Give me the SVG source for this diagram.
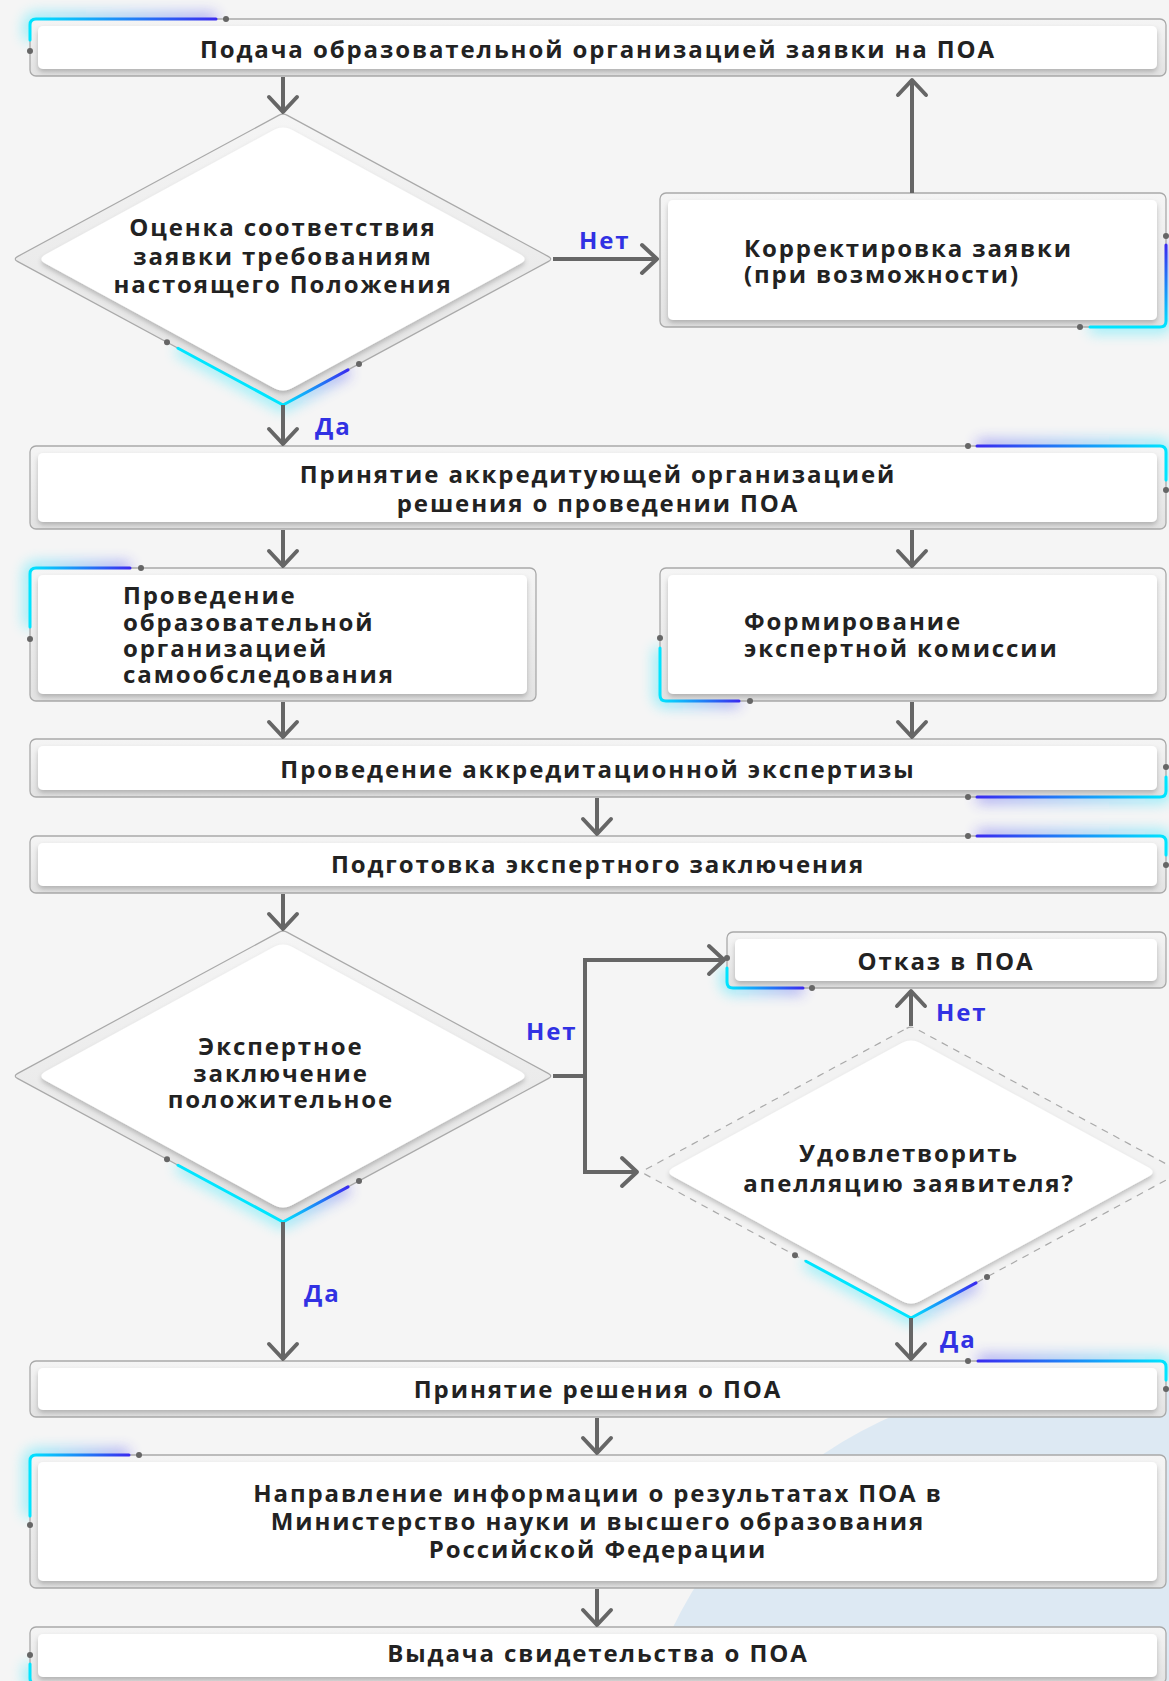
<svg xmlns="http://www.w3.org/2000/svg" xmlns:xlink="http://www.w3.org/1999/xlink" width="1169" height="1681" viewBox="0 0 1169 1681">
<defs>
<style>
.co{fill:url(#gCard);stroke:#a9a9a9;stroke-width:1.3}
.ci{fill:#fff;filter:url(#sh)}
.do{fill:url(#gCard);stroke:#a9a9a9;stroke-width:1.2}
.dd{fill:#f2f2f2;stroke:#a9a9a9;stroke-width:1.2;stroke-dasharray:7 6}
.t{font-family:'Open Sans','Noto Sans','DejaVu Sans',sans-serif;font-weight:700;font-size:24px;letter-spacing:1.9px;fill:#222}
.c{text-anchor:middle}
.lbl{fill:#3131e3}
.conn{fill:none;stroke:#666;stroke-width:4;marker-end:url(#arr)}
.dot{fill:#666}
.acc{fill:none;stroke-width:3;stroke-linecap:round;stroke-linejoin:round}
.glow{fill:none;stroke-width:12;opacity:.4;filter:url(#blur)}
</style>
<linearGradient id="gCard" x1="0" y1="0" x2="0" y2="1"><stop offset="0" stop-color="#f5f5f5"/><stop offset="1" stop-color="#e2e2e2"/></linearGradient>
<linearGradient id="gLR" x1="0" y1="0" x2="1" y2="0"><stop offset="0" stop-color="#00e5ff"/><stop offset="1" stop-color="#3a2bef"/></linearGradient>
<linearGradient id="gRL" x1="0" y1="0" x2="1" y2="0"><stop offset="0" stop-color="#3a2bef"/><stop offset="1" stop-color="#00e5ff"/></linearGradient>
<linearGradient id="gV" x1="0" y1="0" x2="0" y2="1"><stop offset="0" stop-color="#3a2bef"/><stop offset="1" stop-color="#00e5ff"/></linearGradient>
<linearGradient id="gD" x1="0" y1="0" x2="1" y2="0"><stop offset="0" stop-color="#00e5ff"/><stop offset="0.62" stop-color="#00e5ff"/><stop offset="1" stop-color="#3a2bef"/></linearGradient>
<filter id="sh" x="-10%" y="-30%" width="120%" height="170%"><feDropShadow dx="0" dy="3" stdDeviation="2.5" flood-color="#000" flood-opacity="0.22"/></filter>
<filter id="blur" filterUnits="userSpaceOnUse" x="-2000" y="-2000" width="5000" height="5000"><feGaussianBlur stdDeviation="7"/></filter>
<marker id="arr" viewBox="-18 -17 22 34" refX="0" refY="0" markerWidth="22" markerHeight="34" markerUnits="userSpaceOnUse" orient="auto"><path d="M-15,-14 L0,0 L-15,14" fill="none" stroke="#666" stroke-width="4" stroke-linecap="round" stroke-linejoin="round"/></marker>
<path id="dOut" d="M-4.4,-143.6 Q0,-146 4.4,-143.6 L265.6,-2.4 Q270,0 265.6,2.4 L4.4,143.6 Q0,146 -4.4,143.6 L-265.6,2.4 Q-270,0 -265.6,-2.4 Z"/>
<path id="dIn" d="M-8.8,-129.2 Q0,-134 8.8,-129.2 L237.2,-4.8 Q246,0 237.2,4.8 L8.8,129.2 Q0,134 -8.8,129.2 L-237.2,4.8 Q-246,0 -237.2,-4.8 Z"/>
<path id="dAcc" d="M-105,89.2 L0,146 L65,110.9"/>
</defs>

<g id="background">
<rect x="0" y="0" width="1169" height="1681" fill="#f5f5f5"/>
<circle cx="1069" cy="1819" r="440" fill="#dde9f3"/>
</g>

<g id="n-podacha">
<path class="glow" stroke="url(#gLR)" d="M30,40 L30,25 Q30,19 36,19 L216,19"/>
<rect class="co" x="30" y="19" width="1136" height="57" rx="6"/>
<rect class="ci" x="38" y="26" width="1119" height="43" rx="5"/>
<path class="acc" stroke="url(#gLR)" d="M30,40 L30,25 Q30,19 36,19 L216,19"/>
<circle class="dot" cx="226" cy="19" r="3"/><circle class="dot" cx="30" cy="51" r="3"/>
<text class="t c" x="598" y="58">Подача образовательной организацией заявки на ПОА</text>
</g>

<g id="n-ocenka" transform="translate(283,259)">
<use href="#dAcc" class="glow" stroke="url(#gD)"/>
<use href="#dOut" class="do"/>
<use href="#dIn" class="ci"/>
<use href="#dAcc" class="acc" stroke="url(#gD)"/>
<circle class="dot" cx="-116" cy="83.3" r="3"/><circle class="dot" cx="76" cy="104.9" r="3"/>
<text class="t c" x="0" y="-23">Оценка соответствия</text>
<text class="t c" x="0" y="6">заявки требованиям</text>
<text class="t c" x="0" y="34">настоящего Положения</text>
</g>

<g id="n-korr">
<path class="glow" stroke="url(#gV)" d="M1166,245 L1166,321 Q1166,327 1160,327 L1090,327"/>
<rect class="co" x="660" y="193" width="506" height="134" rx="6"/>
<rect class="ci" x="668" y="200" width="489" height="120" rx="5"/>
<path class="acc" stroke="url(#gV)" d="M1166,245 L1166,321 Q1166,327 1160,327 L1090,327"/>
<circle class="dot" cx="1166" cy="236" r="3"/><circle class="dot" cx="1080" cy="327" r="3"/>
<text class="t" x="744" y="257">Корректировка заявки</text>
<text class="t" x="744" y="283">(при возможности)</text>
</g>

<g id="n-prinyatie">
<path class="glow" stroke="url(#gRL)" d="M977,446 L1160,446 Q1166,446 1166,452 L1166,480"/>
<rect class="co" x="30" y="446" width="1136" height="83" rx="6"/>
<rect class="ci" x="38" y="453" width="1119" height="69" rx="5"/>
<path class="acc" stroke="url(#gRL)" d="M977,446 L1160,446 Q1166,446 1166,452 L1166,480"/>
<circle class="dot" cx="968" cy="446" r="3"/><circle class="dot" cx="1166" cy="490" r="3"/>
<text class="t c" x="598" y="483">Принятие аккредитующей организацией</text>
<text class="t c" x="598" y="512">решения о проведении ПОА</text>
</g>

<g id="n-samoobsl">
<path class="glow" stroke="url(#gLR)" d="M30,627 L30,574 Q30,568 36,568 L130,568"/>
<rect class="co" x="30" y="568" width="506" height="133" rx="6"/>
<rect class="ci" x="38" y="575" width="489" height="119" rx="5"/>
<path class="acc" stroke="url(#gLR)" d="M30,627 L30,574 Q30,568 36,568 L130,568"/>
<circle class="dot" cx="141" cy="568" r="3"/><circle class="dot" cx="30" cy="639" r="3"/>
<text class="t" x="123" y="604">Проведение</text>
<text class="t" x="123" y="631">образовательной</text>
<text class="t" x="123" y="657">организацией</text>
<text class="t" x="123" y="683">самообследования</text>
</g>

<g id="n-komissiya">
<path class="glow" stroke="url(#gLR)" d="M660,648 L660,695 Q660,701 666,701 L739,701"/>
<rect class="co" x="660" y="568" width="506" height="133" rx="6"/>
<rect class="ci" x="668" y="575" width="489" height="119" rx="5"/>
<path class="acc" stroke="url(#gLR)" d="M660,648 L660,695 Q660,701 666,701 L739,701"/>
<circle class="dot" cx="660" cy="638" r="3"/><circle class="dot" cx="750" cy="701" r="3"/>
<text class="t" x="744" y="630">Формирование</text>
<text class="t" x="744" y="657">экспертной комиссии</text>
</g>

<g id="n-ekspertiza">
<path class="glow" stroke="url(#gRL)" d="M977,797 L1160,797 Q1166,797 1166,791 L1166,777"/>
<rect class="co" x="30" y="739" width="1136" height="58" rx="6"/>
<rect class="ci" x="38" y="746" width="1119" height="44" rx="5"/>
<path class="acc" stroke="url(#gRL)" d="M977,797 L1160,797 Q1166,797 1166,791 L1166,777"/>
<circle class="dot" cx="968" cy="797" r="3"/><circle class="dot" cx="1166" cy="767" r="3"/>
<text class="t c" x="598" y="778">Проведение аккредитационной экспертизы</text>
</g>

<g id="n-zaklyuchenie">
<path class="glow" stroke="url(#gRL)" d="M977,836 L1160,836 Q1166,836 1166,842 L1166,855"/>
<rect class="co" x="30" y="836" width="1136" height="57" rx="6"/>
<rect class="ci" x="38" y="843" width="1119" height="43" rx="5"/>
<path class="acc" stroke="url(#gRL)" d="M977,836 L1160,836 Q1166,836 1166,842 L1166,855"/>
<circle class="dot" cx="968" cy="836" r="3"/><circle class="dot" cx="1166" cy="865" r="3"/>
<text class="t c" x="598" y="873">Подготовка экспертного заключения</text>
</g>

<g id="n-polozh" transform="translate(283,1076)">
<use href="#dAcc" class="glow" stroke="url(#gD)"/>
<use href="#dOut" class="do"/>
<use href="#dIn" class="ci"/>
<use href="#dAcc" class="acc" stroke="url(#gD)"/>
<circle class="dot" cx="-116" cy="83.3" r="3"/><circle class="dot" cx="76" cy="104.9" r="3"/>
<text class="t c" x="-2" y="-21">Экспертное</text>
<text class="t c" x="-2" y="6">заключение</text>
<text class="t c" x="-2" y="32">положительное</text>
</g>

<g id="n-otkaz">
<path class="glow" stroke="url(#gLR)" d="M727,968 L727,982 Q727,988 733,988 L803,988"/>
<rect class="co" x="727" y="932" width="439" height="56" rx="6"/>
<rect class="ci" x="735" y="939" width="422" height="42" rx="5"/>
<path class="acc" stroke="url(#gLR)" d="M727,968 L727,982 Q727,988 733,988 L803,988"/>
<circle class="dot" cx="727" cy="958" r="3"/><circle class="dot" cx="812" cy="988" r="3"/>
<text class="t c" x="946" y="970">Отказ в ПОА</text>
</g>

<g id="n-apellyaciya" transform="translate(911,1172)">
<use href="#dAcc" class="glow" stroke="url(#gD)"/>
<use href="#dOut" class="dd"/>
<use href="#dIn" class="ci"/>
<use href="#dAcc" class="acc" stroke="url(#gD)"/>
<circle class="dot" cx="-116" cy="83.3" r="3"/><circle class="dot" cx="76" cy="104.9" r="3"/>
<text class="t c" x="-2" y="-10">Удовлетворить</text>
<text class="t c" x="-2" y="20">апелляцию заявителя?</text>
</g>

<g id="n-reshenie">
<path class="glow" stroke="url(#gRL)" d="M978,1361 L1160,1361 Q1166,1361 1166,1367 L1166,1380"/>
<rect class="co" x="30" y="1361" width="1136" height="56" rx="6"/>
<rect class="ci" x="38" y="1368" width="1119" height="42" rx="5"/>
<path class="acc" stroke="url(#gRL)" d="M978,1361 L1160,1361 Q1166,1361 1166,1367 L1166,1380"/>
<circle class="dot" cx="968" cy="1361" r="3"/><circle class="dot" cx="1166" cy="1389" r="3"/>
<text class="t c" x="598" y="1398">Принятие решения о ПОА</text>
</g>

<g id="n-napravlenie">
<path class="glow" stroke="url(#gLR)" d="M30,1516 L30,1461 Q30,1455 36,1455 L129,1455"/>
<rect class="co" x="30" y="1455" width="1136" height="133" rx="6"/>
<rect class="ci" x="38" y="1462" width="1119" height="119" rx="5"/>
<path class="acc" stroke="url(#gLR)" d="M30,1516 L30,1461 Q30,1455 36,1455 L129,1455"/>
<circle class="dot" cx="139" cy="1455" r="3"/><circle class="dot" cx="30" cy="1525" r="3"/>
<text class="t c" x="598" y="1502">Направление информации о результатах ПОА в</text>
<text class="t c" x="598" y="1530">Министерство науки и высшего образования</text>
<text class="t c" x="598" y="1558">Российской Федерации</text>
</g>

<g id="n-vydacha">
<path class="glow" stroke="url(#gLR)" d="M30,1664 L30,1678 Q30,1684 36,1684 L200,1684"/>
<rect class="co" x="30" y="1627" width="1136" height="57" rx="6"/>
<rect class="ci" x="38" y="1634" width="1119" height="43" rx="5"/>
<path class="acc" stroke="url(#gLR)" d="M30,1664 L30,1678 Q30,1684 36,1684 L200,1684"/>
<circle class="dot" cx="30" cy="1655" r="3"/>
<text class="t c" x="598" y="1662">Выдача свидетельства о ПОА</text>
</g>

<g id="connectors">
<path class="conn" d="M283,77 L283,112"/>
<path class="conn" d="M553,259 L657,259"/>
<path class="conn" d="M912,193 L912,80"/>
<path class="conn" d="M283,405 L283,444"/>
<path class="conn" d="M283,530 L283,566"/>
<path class="conn" d="M912,530 L912,566"/>
<path class="conn" d="M283,702 L283,737"/>
<path class="conn" d="M912,702 L912,737"/>
<path class="conn" d="M597,798 L597,834"/>
<path class="conn" d="M283,894 L283,929"/>
<path class="conn" d="M553,1076 L585,1076 L585,960 L724,960"/>
<path class="conn" d="M585,1076 L585,1172 L637,1172"/>
<path class="conn" d="M911,1026 L911,991"/>
<path class="conn" d="M911,1318 L911,1359"/>
<path class="conn" d="M283,1222 L283,1359"/>
<path class="conn" d="M597,1418 L597,1453"/>
<path class="conn" d="M597,1589 L597,1625"/>
<text class="t lbl" x="579" y="249">Нет</text>
<text class="t lbl" x="315" y="435">Да</text>
<text class="t lbl" x="526" y="1040">Нет</text>
<text class="t lbl" x="936" y="1021">Нет</text>
<text class="t lbl" x="304" y="1302">Да</text>
<text class="t lbl" x="940" y="1348">Да</text>
</g>
</svg>
